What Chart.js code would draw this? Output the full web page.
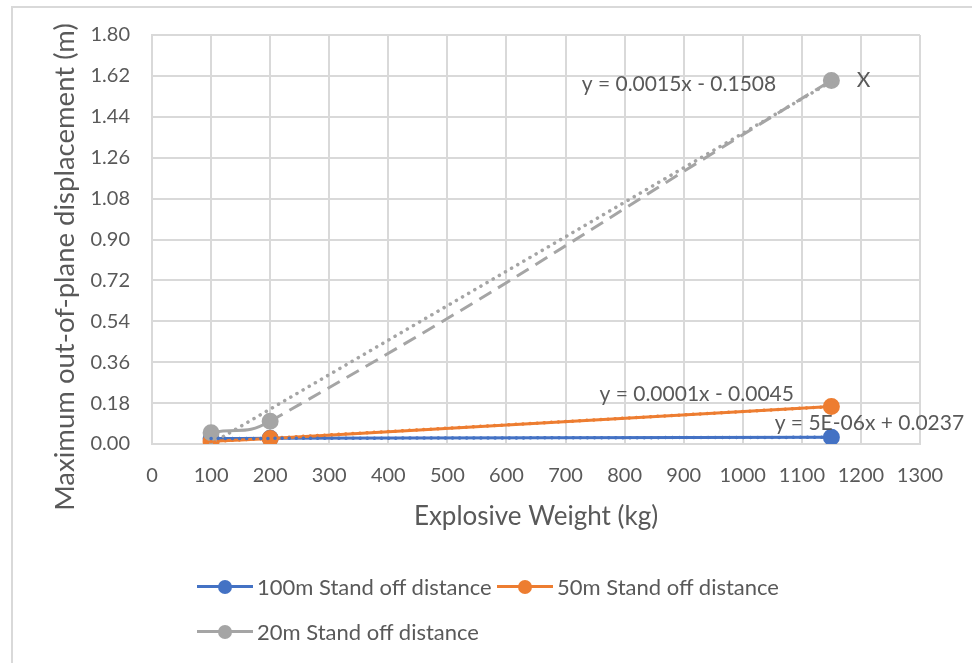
<!DOCTYPE html>
<html>
<head>
<meta charset="utf-8">
<script src="https://cdn.jsdelivr.net/npm/chart.js@4/dist/chart.umd.min.js"></script>
<style>
  body { margin: 0; background: #fff; font-family: Lato, sans-serif; }
  #wrap { position: relative; width: 972px; height: 663px; overflow: hidden; }
  #frame { position: absolute; left: 11px; top: 6px; width: 1000px; height: 700px;
           border-top: 2px solid #d9d9d9; border-left: 2px solid #d9d9d9; }
  canvas { position: absolute; left: 0; top: 0; }
  .legend { position: absolute; font-size: 22px; color: #595959; }
  .item { position: absolute; white-space: nowrap; display: flex; align-items: center; }
  .sym { position: relative; width: 56px; height: 14px; margin-right: 4px; }
  .sym .ln { position: absolute; left: 0; right: 0; top: 5.5px; height: 3px; }
  .sym .dt { position: absolute; left: 21px; top: 0; width: 14px; height: 14px; border-radius: 50%; }
</style>
</head>
<body>
<div id="wrap">
  <div id="frame"></div>
  <canvas id="myChart" width="972" height="663"></canvas>
  <div id="legend"></div>
</div>
<script>
// explosive weight (kg)
var weights = [100, 200, 1150];
// maximum out-of-plane displacement (m)
var disp100m = [0.024, 0.025, 0.0295];
var disp50m = [0.012, 0.024, 0.165];
var disp20m = [0.05, 0.10, 1.60];

var seriesNames = ['100m Stand off distance', '50m Stand off distance', '20m Stand off distance'];
var seriesColors = ['#4472C4', '#ED7D31', '#A5A5A5'];
var trendTexts = ['y = 5E-06x + 0.0237', 'y = 0.0001x - 0.0045', 'y = 0.0015x - 0.1508'];
var yTitle = 'Maximum out-of-plane displacement (m)';

// where the trendline equations sit (in axis units)
var labelSpots = [
    { x: 1054, y: 0.09, align: 'left' },
    { x: 922, y: 0.22, align: 'center' },
    { x: 892, y: 1.584, align: 'center' }
];

var textColor = '#595959';
var gridColor = '#d9d9d9';

function points(ys) {
    return weights.map(function (w, i) { return { x: w, y: ys[i] }; });
}

// least squares line, like excel's linear trendline
function trend(ys) {
    var n = weights.length, mx = 0, my = 0;
    for (var i = 0; i < n; i++) { mx += weights[i] / n; my += ys[i] / n; }
    var sxy = 0, sxx = 0;
    for (var i = 0; i < n; i++) {
        sxy += (weights[i] - mx) * (ys[i] - my);
        sxx += (weights[i] - mx) * (weights[i] - mx);
    }
    var b = sxy / sxx, a = my - b * mx;
    var x0 = weights[0], x1 = weights[n - 1];
    return [{ x: x0, y: a + b * x0 }, { x: x1, y: a + b * x1 }];
}

var allSeries = [disp100m, disp50m, disp20m];
var datasets = [];

allSeries.forEach(function (ys, i) {
    datasets.push({
        label: seriesNames[i],
        data: points(ys),
        borderColor: seriesColors[i],
        backgroundColor: seriesColors[i],
        borderWidth: 3,
        pointRadius: 7,
        pointHoverRadius: 7,
        tension: i === 2 ? 0.5 : 0.3,
        showLine: true,
        order: 3 - i,
        segment: i === 2 ? {
            borderDash: function (ctx) { return ctx.p0DataIndex === 1 ? [14, 8] : undefined; }
        } : undefined
    });
});

allSeries.forEach(function (ys, i) {
    datasets.push({
        label: 'trend ' + i,
        data: trend(ys),
        borderColor: seriesColors[i],
        borderWidth: 3.5,
        borderDash: [0.1, 7],
        borderCapStyle: 'round',
        pointRadius: 0,
        showLine: true,
        order: 0
    });
});

var labelPlugin = {
    id: 'trendLabels',
    afterDatasetsDraw: function (chart) {
        var c = chart.ctx, xs = chart.scales.x, ysc = chart.scales.y;
        c.save();
        c.font = '21px Lato';
        c.fillStyle = textColor;
        c.textBaseline = 'middle';
        labelSpots.forEach(function (s, i) {
            c.textAlign = s.align;
            c.fillText(trendTexts[i], xs.getPixelForValue(s.x), ysc.getPixelForValue(s.y));
        });
        c.textAlign = 'left';
        c.fillText('X', xs.getPixelForValue(1193), ysc.getPixelForValue(1.6));
        // y axis title, excel centres it a bit lower than the plot
        c.font = '27.5px Lato';
        c.textAlign = 'center';
        c.translate(65, 267);
        c.rotate(-Math.PI / 2);
        c.fillText(yTitle, 0, 0);
        c.restore();
    }
};

var ctx = document.getElementById('myChart').getContext('2d');
var myChart = new Chart(ctx, {
    type: 'scatter',
    data: { datasets: datasets },
    options: {
        responsive: false,
        animation: false,
        layout: { padding: { left: 48.5, top: 35, right: 52, bottom: 130.4 } },
        plugins: { legend: { display: false }, tooltip: { enabled: false } },
        scales: {
            x: {
                type: 'linear', min: 0, max: 1300,
                ticks: { stepSize: 100, color: textColor, font: { family: 'Lato', size: 20 }, padding: 20, maxRotation: 0,
                         callback: function (v) { return String(v); } },
                grid: { color: gridColor, lineWidth: 2, drawTicks: false },
                border: { color: gridColor, width: 2 },
                title: { display: true, text: 'Explosive Weight (kg)', color: textColor,
                         font: { family: 'Lato', size: 26 }, padding: 0 },
                afterFit: function (s) { s.height = 88.6; }
            },
            y: {
                type: 'linear', min: 0, max: 1.8,
                ticks: { stepSize: 0.18, color: textColor, font: { family: 'Lato', size: 20 }, padding: 22,
                         callback: function (v) { return v.toFixed(2); } },
                grid: { color: gridColor, lineWidth: 2, drawTicks: false },
                border: { color: gridColor, width: 2 },
                afterFit: function (s) { s.width = 103.5; }
            }
        }
    },
    plugins: [labelPlugin]
});

// legend laid out the way excel wraps it
var legendSpots = [{ left: 197, top: 587 }, { left: 497, top: 587 }, { left: 197, top: 632 }];
var legendHtml = '';
seriesNames.forEach(function (name, i) {
    legendHtml += '<div class="item legend" style="left:' + legendSpots[i].left + 'px;top:' + (legendSpots[i].top - 14) + 'px">' +
        '<span class="sym"><span class="ln" style="background:' + seriesColors[i] + '"></span>' +
        '<span class="dt" style="background:' + seriesColors[i] + '"></span></span>' + name + '</div>';
});
document.getElementById('legend').innerHTML = legendHtml;
</script>
</body>
</html>
